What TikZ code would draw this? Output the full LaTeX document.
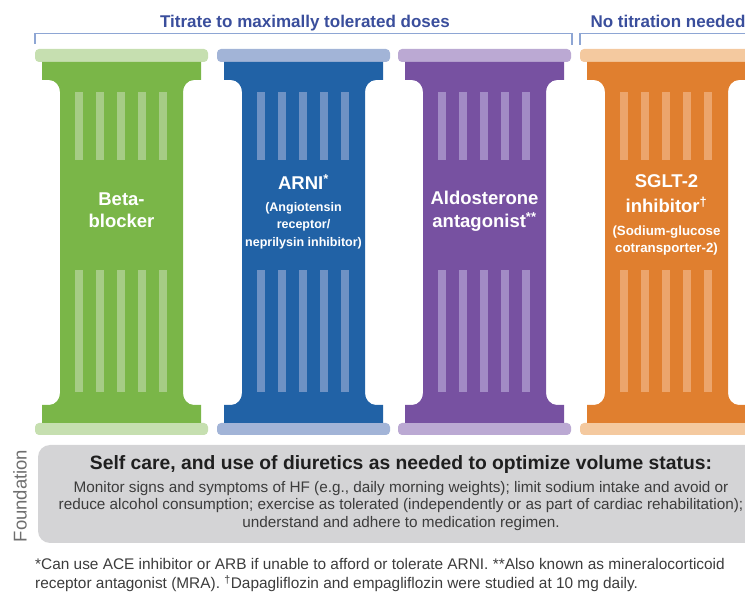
\documentclass[tikz,border=0pt]{standalone}
\usepackage{fontspec}
\setmainfont{Liberation Sans}
\usepackage{xcolor}

\definecolor{betagreen}{HTML}{7AB648}
\definecolor{betalight}{HTML}{C6DFB0}
\definecolor{betaflute}{HTML}{A6CC86}
\definecolor{arniblue}{HTML}{2162A6}
\definecolor{arnilight}{HTML}{A2B4D7}
\definecolor{arniflute}{HTML}{6E92C4}
\definecolor{mrapurple}{HTML}{7751A1}
\definecolor{mralight}{HTML}{BBA9D3}
\definecolor{mraflute}{HTML}{A28BC5}
\definecolor{sgltorange}{HTML}{E07F2F}
\definecolor{sgltlight}{HTML}{F4C99F}
\definecolor{sgltflute}{HTML}{ECA56C}
\definecolor{titleblue}{HTML}{3A4E9C}
\definecolor{bracketblue}{HTML}{8EA6D4}
\definecolor{basegray}{HTML}{D4D4D6}
\definecolor{inkgray}{HTML}{3C3C3C}
\definecolor{labelgray}{HTML}{6E6E6E}

% one column: #1 left edge, #2 body, #3 slabs, #4 flutes
\newcommand{\pillar}[4]{%
  \fill[#3, rounded corners=4pt] (#1,49) rectangle ++(173,13);
  \fill[#3, rounded corners=4pt] (#1,423) rectangle ++(173,12);
  \fill[#2] (#1+7,62) -- (#1+166,62) -- (#1+166,80) -- (#1+159,80)
    to[out=180,in=90] (#1+148,92) -- (#1+148,393)
    to[out=-90,in=180] (#1+159,405) -- (#1+166,405) -- (#1+166,423)
    -- (#1+7,423) -- (#1+7,405) -- (#1+14,405)
    to[out=0,in=-90] (#1+25,393) -- (#1+25,92)
    to[out=90,in=0] (#1+14,80) -- (#1+7,80) -- cycle;
  \foreach \k in {0,...,4} {
    \fill[#4] (#1+40+21*\k,92) rectangle ++(8,68);
    \fill[#4] (#1+40+21*\k,270) rectangle ++(8,122);
  }%
}

\begin{document}
\begin{tikzpicture}[x=1pt, y=-1pt,
    header/.style={text=titleblue, anchor=base, inner sep=0pt, font=\bfseries\fontsize{17}{20}\selectfont},
    bracket/.style={draw=bracketblue, line width=1.3pt},
    pillartext/.style={text=white, align=center, inner sep=0pt, font=\bfseries\fontsize{18.5}{22.5}\selectfont},
    small/.style={font=\bfseries\fontsize{12.5}{17.5}\selectfont},
    basetext/.style={text=inkgray, align=center, inner sep=0pt, font=\fontsize{15.3}{17.5}\selectfont}
]
\clip (0,0) rectangle (745,593);

% headings over the columns
\node[header] (titrate) at (305,28) {Titrate to maximally tolerated doses};
\node[header] (notitration) at (668,28) {No titration needed};
\draw[bracket] (35,44) -- (35,33.5) -- (572,33.5) -- (572,45);
\draw[bracket] (580,45) -- (580,33.5) -- (760,33.5);

% the four columns
\pillar{35}{betagreen}{betalight}{betaflute}
\pillar{217}{arniblue}{arnilight}{arniflute}
\pillar{398}{mrapurple}{mralight}{mraflute}
\pillar{580}{sgltorange}{sgltlight}{sgltflute}

\node[pillartext] (beta) at (121.5,210) {Beta-\\blocker};
\node[pillartext, small] (arni) at (303.5,211.5)
  {{\fontsize{18.5}{22}\selectfont ARNI\textsuperscript{*}}\\[4pt](Angiotensin\\receptor/\\neprilysin inhibitor)};
\node[pillartext] (mra) at (484.5,211.5) {Aldosterone\\antagonist\textsuperscript{**}};
\node[pillartext] (sglt) at (666.5,215)
  {SGLT-2\\[2.5pt]inhibitor\textsuperscript{\textdagger}\\
   {\fontsize{13.3}{17}\selectfont (Sodium-glucose}\\[-5pt]
   {\fontsize{13.3}{17}\selectfont cotransporter-2)}};

% foundation slab
\fill[basegray, rounded corners=12pt] (38,445) rectangle (775,543);
\node[rotate=90, text=labelgray, font=\fontsize{18.5}{21}\selectfont] (foundation) at (20,496) {Foundation};
\node[anchor=base, inner sep=0pt, text=black!88, font=\bfseries\fontsize{19.3}{22}\selectfont] (selfcare) at (401,470)
  {Self care, and use of diuretics as needed to optimize volume status:};
\node[basetext] (advice) at (401,506)
  {Monitor signs and symptoms of HF (e.g., daily morning weights); limit sodium intake and avoid or\\
   reduce alcohol consumption; exercise as tolerated (independently or as part of cardiac rehabilitation);\\
   understand and adhere to medication regimen.};

% notes
\node[anchor=west, align=left, inner sep=0pt, text=inkgray, font=\fontsize{15.4}{18.5}\selectfont] (notes) at (35,575)
  {*Can use ACE inhibitor or ARB if unable to afford or tolerate ARNI. **Also known as mineralocorticoid\\
   receptor antagonist (MRA). \textsuperscript{\textdagger}Dapagliflozin and empagliflozin were studied at 10 mg daily.};
\end{tikzpicture}
\end{document}
